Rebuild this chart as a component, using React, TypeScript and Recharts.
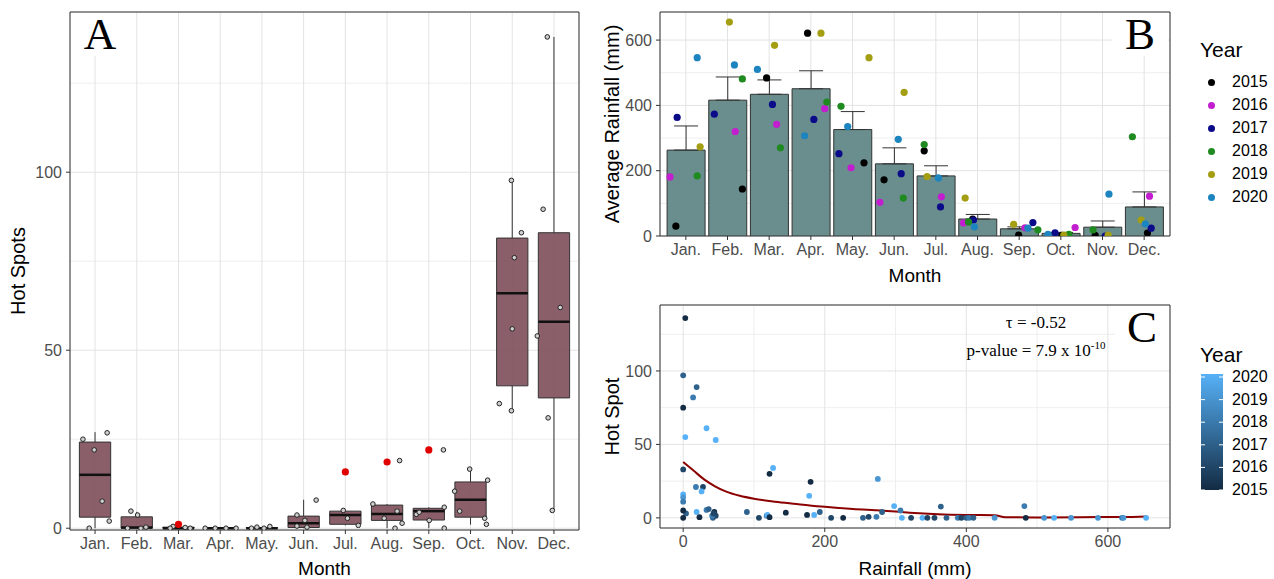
import {
  ComposedChart,
  Scatter,
  Bar,
  Line,
  XAxis,
  YAxis,
  CartesianGrid,
  ReferenceArea,
  ReferenceLine,
  ErrorBar,
} from 'recharts';

// ---- shared ----
const months = ['Jan.', 'Feb.', 'Mar.', 'Apr.', 'May.', 'Jun.', 'Jul.', 'Aug.', 'Sep.', 'Oct.', 'Nov.', 'Dec.'];
const monthIdx = [1, 2, 3, 4, 5, 6, 7, 8, 9, 10, 11, 12];
const years = [2015, 2016, 2017, 2018, 2019, 2020];

// ---- panel A: hot spots per month (boxplot stats) ----
const boxLow = [0, 0, 0, 0, 0, 0, 0.8, 0, 0, 1, 33, 5];
const boxQ1 = [3.1, 0, 0, 0, 0, 0.2, 1.1, 2.2, 2.3, 3.1, 40, 36.6];
const boxMed = [15, 0.2, 0, 0, 0, 1.4, 3.7, 4, 4.8, 8, 66, 58];
const boxQ3 = [24.2, 3.2, 0.3, 0.2, 0.2, 3.4, 4.8, 6.5, 5.6, 13, 81.5, 83];
const boxHigh = [27, 4.6, 0.5, 0.2, 0.3, 8, 5, 6.8, 5.9, 16.6, 97.7, 138];

// jittered observations (x = month + jitter)
const hotX = [
  0.71, 1.29, 0.98, 1.17, 1.34, 0.86,
  1.86, 2.02, 2.22, 1.78, 2.1,
  2.87, 3.28, 3.16, 2.8,
  3.64, 3.88, 4.14, 4.38,
  4.88, 5.19, 4.75, 5.05,
  6.3, 5.84, 6.03, 5.84, 6.08,
  6.95, 7.05, 7.31,
  8.3, 7.66, 7.93, 8.24, 8.36, 8.19,
  9.35, 8.7, 8.77, 9.01, 9.37, 9.37,
  9.98, 10.41, 9.62, 9.74, 10.34, 10.38,
  10.98, 11.22, 11.05, 11.0, 10.69, 10.98,
  11.84, 11.74, 12.15, 11.6, 11.86, 11.96,
];
const hotY = [
  25, 26.8, 22, 7.6, 2, 0,
  4.8, 3.7, 0.3, 0, 0,
  0.5, 0, 0.2, 0,
  0, 0, 0, 0,
  0.3, 0.5, 0, 0,
  7.9, 3.7, 2.2, 0.6, 0.3,
  5, 2.8, 0.8,
  19, 6.8, 2.8, 4.8, 1.4, 0,
  22, 3.9, 4.5, 2.2, 5.9, 0,
  16.6, 13.5, 10.4, 4.8, 2.8, 1.1,
  97.7, 83, 76, 56, 35, 33,
  138, 89.6, 62, 54, 31, 5,
];
const outX = [3, 7, 8, 9];
const outY = [1.1, 15.8, 18.6, 22];

// ---- panel B: rainfall per month ----
const rainMean = [263, 416, 434, 451, 326, 221, 184, 52, 22, 8, 27, 89];
const rainSe = [74, 71, 44, 55, 55, 49, 31, 14, 6, 3, 19, 46];
const yearColors = ['#000000', '#C21ECF', '#0B0B8A', '#1F8A1F', '#A39E12', '#1C84BF'];
const rainJitter = [
  [0.78, 2.37, 2.95, 3.93, 5.28, 5.76, 6.72, 7.88, 8.98, 10.01, 10.81, 12.06],
  [0.64, 2.2, 3.19, 4.34, 4.97, 5.66, 7.13, 7.66, 9.13, 10.33, 11.1, 12.11],
  [0.81, 1.7, 3.09, 4.08, 4.68, 6.17, 7.11, 7.9, 9.32, 9.85, 11.05, 12.15],
  [1.29, 2.37, 3.28, 4.39, 4.73, 6.22, 6.72, 7.78, 9.44, 10.18, 10.76, 11.7],
  [1.36, 2.06, 3.14, 4.25, 5.4, 6.24, 6.79, 7.7, 8.86, 10.06, 11.12, 11.91],
  [1.29, 2.18, 2.73, 3.86, 4.89, 6.1, 7.06, 7.92, 9.2, 9.68, 11.14, 12.01],
];
const rainByYear = [
  [30, 144, 484, 621, 224, 172, 261, 52, 3, 2, 2, 9],
  [181, 320, 342, 390, 209, 103, 120, 40, 25, 26, 0, 122],
  [363, 373, 403, 357, 252, 191, 89, 49, 41, 10, 0, 24],
  [184, 481, 270, 410, 397, 116, 280, 43, 19, 5, 19, 304],
  [273, 655, 584, 621, 546, 440, 182, 116, 36, 3, 3, 49],
  [546, 524, 510, 307, 335, 296, 178, 28, 24, 5, 128, 37],
];

// ---- panel C: hot spots vs rainfall ----
const cRain = [
  3, 0, 19, 14, 0, 33, 3, 46, 0, 122, 127, 180, 178, 275, 0, 0, 0, 18, 28, 26,
  19, 4, 23, 0, 0, 33, 36, 44, 42, 46, 41, 43, 90, 107, 118, 119, 122, 145, 175, 185,
  193, 209, 226, 254, 262, 273, 281, 298, 307, 309, 322, 338, 345, 364, 355, 372, 388, 393, 400, 404,
  410, 440, 482, 484, 510, 524, 548, 586, 620, 622, 654,
];
const cHot = [
  136, 97, 89, 82, 75, 61, 55, 53, 33, 30, 34, 24.5, 15, 26.5, 16, 14, 11, 21, 21, 18,
  4, 3, 0.5, 5, 0, 5.4, 6, 4, 0, 1.5, 1.5, 3, 4, 0, 1.5, 2, 0.5, 3.5, 2, 2,
  4, 0, 0, 0, 0.7, 0.7, 4, 8, 5, 0, 0, 0, 0, 7.7, 0, 0, 0, 0, 0, 0,
  0, 0, 8, 0, 0, 0, 0, 0, 0, 0, 0,
];
const cYear = [
  2015, 2017, 2017, 2018, 2015, 2020, 2020, 2020, 2016, 2015, 2020, 2015, 2020, 2019, 2020, 2019, 2018, 2018, 2016, 2020,
  2020, 2017, 2015, 2015, 2015, 2018, 2017, 2015, 2017, 2016, 2018, 2016, 2017, 2016, 2018, 2020, 2015, 2015, 2015, 2020,
  2017, 2016, 2015, 2017, 2016, 2018, 2017, 2020, 2018, 2020, 2016, 2020, 2016, 2017, 2016, 2017, 2018, 2016, 2017, 2018,
  2017, 2019, 2018, 2015, 2019, 2020, 2019, 2019, 2018, 2019, 2020,
];
const fitRain = [0, 15, 30, 45, 60, 80, 100, 130, 160, 200, 240, 280, 320, 360, 400, 440, 455, 500, 560, 620, 655];
const fitHot = [38, 32, 26, 21.5, 18, 15, 13, 11, 9.5, 7.5, 6, 5, 3.5, 2.5, 2, 1.8, 0.5, 0.3, 0.5, 0.6, 1];

// ---- styling ----
const SANS = '"Liberation Sans", Arial, sans-serif';
const SERIF = '"Liberation Serif", "Times New Roman", serif';
const tickStyle = { fill: '#4D4D4D', fontSize: 16 };
const tickLine = { stroke: '#333333' };
const xTitle = { fill: '#000', fontSize: 19, textAnchor: 'middle' as const };
const yTitle = { fill: '#000', fontSize: 20, textAnchor: 'middle' as const };
const GRID = '#E3E3E3';
const MINOR = '#EFEFEF';

const lowCol = [0x13, 0x2b, 0x43];
const highCol = [0x56, 0xb1, 0xf7];
const yearShade = (y: number) => {
  const t = (y - 2015) / 5;
  const c = lowCol.map((l, i) => Math.round(l + (highCol[i] - l) * t));
  return `rgb(${c[0]},${c[1]},${c[2]})`;
};

const hotData = hotX.map((x, i) => ({ x, y: hotY[i] }));
const outData = outX.map((x, i) => ({ x, y: outY[i] }));
const barData = months.map((name, i) => ({ name, mean: rainMean[i], err: [0, rainSe[i]] }));
const yearData = years.map((_, k) => rainByYear[k].map((v, i) => ({ x: rainJitter[k][i], y: v })));
const cData = cRain.map((r, i) => ({ x: r, y: cHot[i], year: cYear[i] }));
const fitData = fitRain.map((r, i) => ({ x: r, y: fitHot[i] }));

const HollowDot = (p: any) => (
  <circle cx={p.cx} cy={p.cy} r={2.3} fill="#d0d0d0" stroke="#222" strokeWidth={1} />
);
const RedDot = (p: any) => <circle cx={p.cx} cy={p.cy} r={3.6} fill="#E00000" />;

const PanelLetter = ({ l, left, top, w }: { l: string; left: number; top: number; w: number }) => (
  <div
    style={{
      position: 'absolute', left, top, width: w, height: 43, background: '#fff',
      fontFamily: SERIF, fontSize: 45, lineHeight: '43px', textAlign: 'center', color: '#000',
    }}
  >
    {l}
  </div>
);

export default function App() {
  return (
    <div style={{ position: 'absolute', left: 0, top: 0, width: 1274, height: 579, background: '#fff', fontFamily: SANS }}>
      {/* A */}
      <div style={{ position: 'absolute', left: 0, top: 0 }}>
        <ComposedChart width={590} height={579} margin={{ top: 12, right: 11, left: 0, bottom: 0 }}>
          <CartesianGrid stroke={MINOR} vertical={false} horizontalValues={[25, 75, 125]} />
          <CartesianGrid stroke={GRID} />
          <XAxis
            type="number" dataKey="x" domain={[0.4, 12.6]} ticks={monthIdx} interval={0} allowDataOverflow
            tickFormatter={(v: number) => months[v - 1]} height={49} axisLine={false}
            tick={tickStyle} tickLine={tickLine} tickSize={4} tickMargin={4}
            label={{ value: 'Month', position: 'insideBottom', offset: 4, style: xTitle }}
          />
          <YAxis
            type="number" domain={[-0.5, 145]} ticks={[0, 50, 100]} allowDataOverflow width={70}
            axisLine={false} tick={tickStyle} tickLine={tickLine} tickSize={4} tickMargin={4}
            label={{ value: 'Hot Spots', angle: -90, position: 'insideLeft', offset: 18, style: yTitle }}
          />
          <Scatter data={hotData} dataKey="y" shape={HollowDot} isAnimationActive={false} />
          {monthIdx.map((m, i) => (
            <ReferenceLine key={'wh' + m} segment={[{ x: m, y: boxQ3[i] }, { x: m, y: boxHigh[i] }]} stroke="#333" />
          ))}
          {monthIdx.map((m, i) => (
            <ReferenceLine key={'wl' + m} segment={[{ x: m, y: boxLow[i] }, { x: m, y: boxQ1[i] }]} stroke="#333" />
          ))}
          {monthIdx.map((m, i) => (
            <ReferenceArea
              key={'b' + m} x1={m - 0.375} x2={m + 0.375} y1={boxQ1[i]} y2={boxQ3[i]}
              fill="#7D4E5A" fillOpacity={0.9} stroke="#333" strokeWidth={1}
            />
          ))}
          {monthIdx.map((m, i) => (
            <ReferenceLine
              key={'md' + m} segment={[{ x: m - 0.375, y: boxMed[i] }, { x: m + 0.375, y: boxMed[i] }]}
              stroke="#111" strokeWidth={2.5}
            />
          ))}
          <Scatter data={outData} dataKey="y" shape={RedDot} isAnimationActive={false} />
          <ReferenceArea x1={0.4} x2={12.6} y1={-0.5} y2={145} fill="none" stroke="#333" strokeWidth={1} />
        </ComposedChart>
      </div>
      <PanelLetter l="A" left={72} top={13} w={56} />

      {/* B */}
      <div style={{ position: 'absolute', left: 590, top: 0 }}>
        <ComposedChart data={barData} width={600} height={290} margin={{ top: 12, right: 20, left: 0, bottom: 0 }} barCategoryGap="5%">
          <CartesianGrid stroke={MINOR} vertical={false} horizontalValues={[100, 300, 500]} />
          <CartesianGrid stroke={GRID} />
          <XAxis
            dataKey="name" type="category" padding={{ left: 5, right: 5 }} interval={0} height={54} axisLine={false}
            tick={tickStyle} tickLine={tickLine} tickSize={4} tickMargin={4}
            label={{ value: 'Month', position: 'insideBottom', offset: 8, style: xTitle }}
          />
          <XAxis xAxisId="n" type="number" dataKey="x" domain={[0.4, 12.6]} allowDataOverflow hide />
          <YAxis
            type="number" domain={[0, 686]} ticks={[0, 200, 400, 600]} allowDataOverflow width={70}
            axisLine={false} tick={tickStyle} tickLine={tickLine} tickSize={4} tickMargin={4}
            label={{ value: 'Average Rainfall (mm)', angle: -90, position: 'insideLeft', offset: 22, style: yTitle }}
          />
          <Bar dataKey="mean" fill="#6A8E8E" stroke="#333" strokeWidth={1} isAnimationActive={false}>
            <ErrorBar dataKey="err" direction="y" width={12} stroke="#333" strokeWidth={1} />
          </Bar>
          {years.map((yr, k) => (
            <Scatter
              key={yr} xAxisId="n" data={yearData[k]} dataKey="y" isAnimationActive={false}
              shape={(p: any) => <circle cx={p.cx} cy={p.cy} r={3.6} fill={yearColors[k]} />}
            />
          ))}
          <ReferenceArea xAxisId="n" x1={0.4} x2={12.6} y1={0} y2={686} fill="none" stroke="#333" strokeWidth={1} />
        </ComposedChart>
      </div>
      <PanelLetter l="B" left={1112} top={13} w={56} />

      {/* legend B */}
      <div style={{ position: 'absolute', left: 1200, top: 38, fontSize: 21, color: '#000' }}>Year</div>
      {years.map((yr, k) => (
        <div key={yr} style={{ position: 'absolute', left: 1208, top: 72 + 23 * k, height: 20, display: 'flex', alignItems: 'center' }}>
          <span style={{ width: 7, height: 7, borderRadius: 4, background: yearColors[k], marginRight: 17 }} />
          <span style={{ fontSize: 16, color: '#000' }}>{yr}</span>
        </div>
      ))}

      {/* C */}
      <div style={{ position: 'absolute', left: 590, top: 290 }}>
        <ComposedChart width={600} height={289} margin={{ top: 15, right: 20, left: 0, bottom: 0 }}>
          <CartesianGrid stroke={MINOR} horizontalValues={[25, 75, 125]} verticalValues={[100, 300, 500]} />
          <CartesianGrid stroke={GRID} />
          <XAxis
            type="number" dataKey="x" domain={[-32.75, 687.75]} ticks={[0, 200, 400, 600]} interval={0} allowDataOverflow
            height={51} axisLine={false} tick={tickStyle} tickLine={tickLine} tickSize={4} tickMargin={4}
            label={{ value: 'Rainfall (mm)', position: 'insideBottom', offset: 4, style: xTitle }}
          />
          <YAxis
            type="number" domain={[-6.9, 144.9]} ticks={[0, 50, 100]} allowDataOverflow width={70}
            axisLine={false} tick={tickStyle} tickLine={tickLine} tickSize={4} tickMargin={4}
            label={{ value: 'Hot Spot', angle: -90, position: 'insideLeft', offset: 22, style: yTitle }}
          />
          <Scatter
            data={cData} dataKey="y" isAnimationActive={false}
            shape={(p: any) => <circle cx={p.cx} cy={p.cy} r={2.9} fill={yearShade(p.payload.year)} />}
          />
          <Line data={fitData} dataKey="y" type="monotone" stroke="#8B0000" strokeWidth={2} dot={false} isAnimationActive={false} />
          <ReferenceArea x1={-32.75} x2={687.75} y1={-6.9} y2={144.9} fill="none" stroke="#333" strokeWidth={1} />
        </ComposedChart>
      </div>
      <PanelLetter l="C" left={1115} top={306} w={54} />
      <div style={{ position: 'absolute', left: 960, top: 312, width: 152, textAlign: 'center', fontFamily: SERIF, fontSize: 17, lineHeight: '22px', color: '#000' }}>
        <div>τ = -0.52</div>
        <div>
          p-value = 7.9 x 10<sup style={{ fontSize: 11 }}>-10</sup>
        </div>
      </div>

      {/* legend C */}
      <div style={{ position: 'absolute', left: 1200, top: 343, fontSize: 21, color: '#000' }}>Year</div>
      <svg style={{ position: 'absolute', left: 1200, top: 374 }} width={24} height={116}>
        <defs>
          <linearGradient id="yearGrad" x1="0" y1="0" x2="0" y2="1">
            <stop offset="0%" stopColor={yearShade(2020)} />
            <stop offset="100%" stopColor={yearShade(2015)} />
          </linearGradient>
        </defs>
        <rect x={1} y={0} width={22} height={116} fill="url(#yearGrad)" />
        {years.map((yr) => {
          const yy = 3 + (2020 - yr) * 22.6;
          return (
            <g key={yr}>
              <line x1={1} x2={5} y1={yy} y2={yy} stroke="#fff" strokeWidth={1} />
              <line x1={19} x2={23} y1={yy} y2={yy} stroke="#fff" strokeWidth={1} />
            </g>
          );
        })}
      </svg>
      {years.map((yr) => (
        <div key={'c' + yr} style={{ position: 'absolute', left: 1232, top: 367 + (2020 - yr) * 22.6, fontSize: 16, lineHeight: '20px', color: '#000' }}>
          {yr}
        </div>
      ))}
    </div>
  );
}
